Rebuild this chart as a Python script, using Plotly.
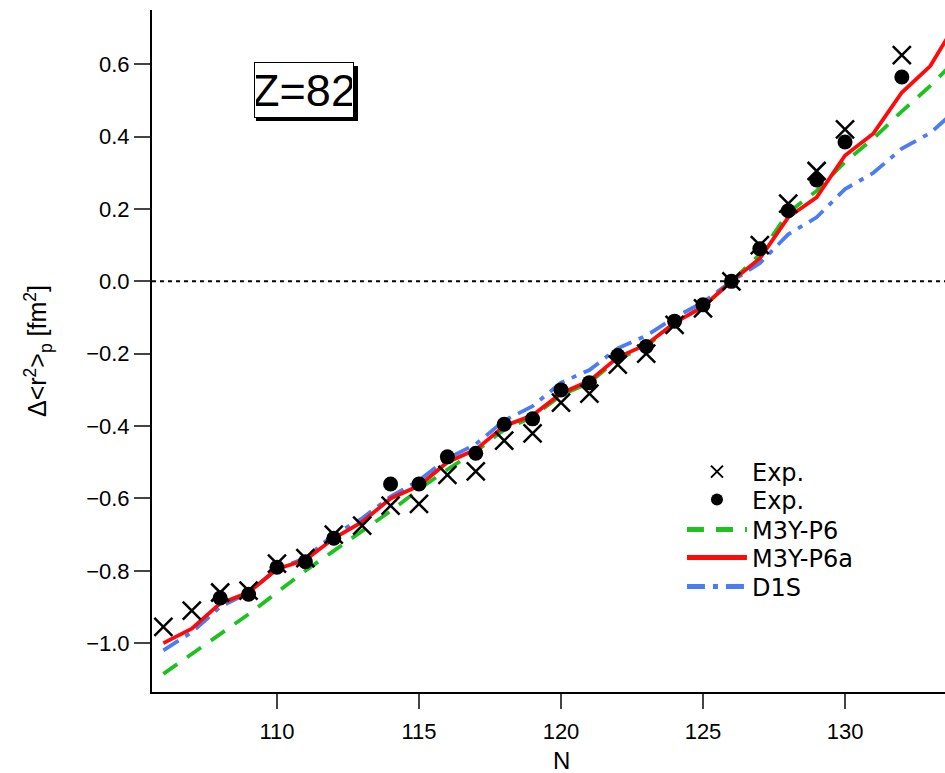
import plotly.graph_objects as go

# Experimental data (crosses)
n_exp1 = [106, 107, 108, 109, 110, 111, 112, 113, 114, 115, 116, 117, 118, 119,
          120, 121, 122, 123, 124, 125, 126, 127, 128, 129, 130, 132]
r_exp1 = [-0.955, -0.91, -0.86, -0.855, -0.78, -0.765, -0.70, -0.675, -0.62, -0.615,
          -0.535, -0.525, -0.44, -0.42, -0.335, -0.31, -0.23, -0.20, -0.12, -0.075,
          0.0, 0.10, 0.215, 0.305, 0.42, 0.625]

# Experimental data (dots)
n_exp2 = [108, 109, 110, 111, 112, 114, 115, 116, 117, 118, 119, 120, 121, 122,
          123, 124, 125, 126, 127, 128, 129, 130, 132]
r_exp2 = [-0.875, -0.865, -0.79, -0.775, -0.71, -0.56, -0.56, -0.485, -0.475, -0.395,
          -0.38, -0.30, -0.28, -0.205, -0.18, -0.11, -0.065, 0.0, 0.09, 0.195, 0.28,
          0.385, 0.565]

# Theory curves
n_th = list(range(106, 135))
r_p6 = [-1.085, -1.03, -0.975, -0.92, -0.86, -0.80, -0.745, -0.69, -0.635, -0.575,
        -0.52, -0.47, -0.41, -0.375, -0.315, -0.28, -0.215, -0.18, -0.115, -0.07,
        0.0, 0.075, 0.19, 0.25, 0.33, 0.395, 0.47, 0.54, 0.62]
r_p6a = [-1.0, -0.96, -0.89, -0.86, -0.795, -0.77, -0.71, -0.665, -0.60, -0.565,
         -0.50, -0.465, -0.40, -0.37, -0.31, -0.275, -0.21, -0.175, -0.115, -0.07,
         0.0, 0.063, 0.177, 0.232, 0.348, 0.409, 0.522, 0.595, 0.725]
r_d1s = [-1.02, -0.97, -0.90, -0.86, -0.795, -0.765, -0.70, -0.655, -0.595, -0.55,
         -0.49, -0.45, -0.385, -0.345, -0.28, -0.245, -0.185, -0.15, -0.10, -0.058,
         0.0, 0.05, 0.13, 0.177, 0.255, 0.30, 0.367, 0.41, 0.48]

x_ticks = [110, 115, 120, 125, 130]
y_ticks = [-1.0, -0.8, -0.6, -0.4, -0.2, 0.0, 0.2, 0.4, 0.6]
y_ticklabels = ["\u22121.0", "\u22120.8", "\u22120.6", "\u22120.4", "\u22120.2",
                "0.0", "0.2", "0.4", "0.6"]

FONT = "Liberation Sans, Arial, sans-serif"
LEGFONT = "DejaVu Sans, Liberation Sans, sans-serif"

fig = go.Figure()

fig.add_trace(go.Scatter(x=n_th, y=r_p6, mode="lines", name="M3Y-P6",
                         line=dict(color="#1ec21e", width=3.8, dash="17px,12px"),
                         legend="legend3"))
fig.add_trace(go.Scatter(x=n_th, y=r_d1s, mode="lines", name="D1S",
                         line=dict(color="#4a7cf5", width=3.8, dash="18px,8px,5px,8px"),
                         legend="legend5"))
fig.add_trace(go.Scatter(x=n_th, y=r_p6a, mode="lines", name="M3Y-P6a",
                         line=dict(color="#ff0a0a", width=3.8),
                         legend="legend4"))
fig.add_trace(go.Scatter(x=n_exp1, y=r_exp1, mode="markers", name="Exp.",
                         marker=dict(symbol="x-thin-open", size=18, color="black",
                                     line=dict(width=2.5, color="black")),
                         legend="legend"))
fig.add_trace(go.Scatter(x=n_exp2, y=r_exp2, mode="markers", name="Exp.",
                         marker=dict(symbol="circle", size=15, color="black"),
                         legend="legend2"))

# dotted zero line
fig.add_shape(type="line", xref="paper", x0=0, x1=1, yref="y", y0=0, y1=0,
              line=dict(color="black", width=2, dash="4px,4px"), layer="below")

# Z=82 label with drop shadow
fig.add_shape(type="rect", xref="paper", yref="paper",
              x0=0.1311, x1=0.2598, y0=0.8372, y1=0.9179,
              line=dict(width=0), fillcolor="black")
fig.add_annotation(xref="paper", yref="paper", x=0.1917, y=0.883,
                   text="Z=82", showarrow=False,
                   font=dict(family="Liberation Sans Narrow, Liberation Sans, Arial",
                             size=45, color="black"),
                   bgcolor="white", bordercolor="black", borderwidth=1,
                   width=96, height=52, xanchor="center", yanchor="middle")

fig.add_annotation(xref="x", yref="paper", x=120, y=0, yshift=-68,
                   text="N", showarrow=False,
                   font=dict(family=FONT, size=24, color="black"),
                   xanchor="center", yanchor="middle")

# legends, one per row
leg_rows = [0.3226, 0.2815, 0.2375, 0.1965, 0.1540]
leg_names = ["legend", "legend2", "legend3", "legend4", "legend5"]
legend_layout = {}
for nm, yy in zip(leg_names, leg_rows):
    legend_layout[nm] = dict(x=0.6683, y=yy, xanchor="left", yanchor="middle",
                             bgcolor="rgba(0,0,0,0)", borderwidth=0,
                             font=dict(family=LEGFONT, size=24, color="black"),
                             itemsizing="constant", itemwidth=60)

fig.update_layout(
    width=945, height=773,
    margin=dict(l=152, r=0, t=10, b=81),
    paper_bgcolor="white", plot_bgcolor="white",
    font=dict(family=FONT, size=21, color="black"),
    showlegend=True,
    xaxis=dict(range=[105.6, 133.52], tickvals=x_ticks, ticks="outside", ticklen=15,
               tickwidth=2, showline=True, linecolor="black", linewidth=2,
               showgrid=False, zeroline=False, tickfont=dict(size=22),
               ticklabelstandoff=4),
    yaxis=dict(range=[-1.135, 0.75], tickvals=y_ticks, ticktext=y_ticklabels,
               ticks="outside", ticklen=16, tickwidth=2, showline=True,
               linecolor="black", linewidth=2, showgrid=False, zeroline=False,
               tickfont=dict(size=22),
               title=dict(text="\u0394&lt;r<sup>2</sup>&gt;<sub>p</sub> [fm<sup>2</sup>]",
                          font=dict(size=25), standoff=32)),
    **legend_layout,
)

fig.write_html("out.html")
